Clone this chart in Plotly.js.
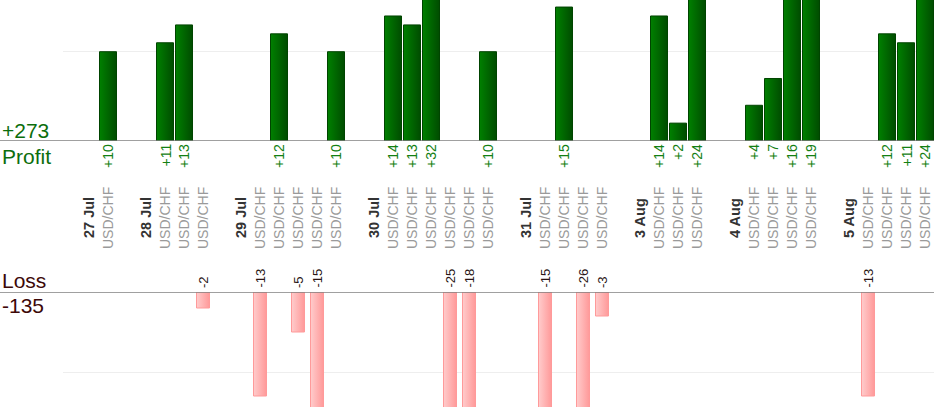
<!DOCTYPE html>
<html>
<head>
<meta charset="utf-8">
<script src="https://cdn.plot.ly/plotly-3.0.1.min.js"></script>
<style>
  html, body { margin: 0; padding: 0; background: #fff; }
  #chart { width: 934px; height: 420px; }
</style>
</head>
<body>
<div id="chart"></div>
<script>
// ---- data ----
const days = ['27 Jul', '28 Jul', '29 Jul', '30 Jul', '31 Jul', '3 Aug', '4 Aug', '5 Aug'];
const tradeDay = [0, 1, 1, 1, 2, 2, 2, 2, 2, 3, 3, 3, 3, 3, 3, 4, 4, 4, 4, 5, 5, 5, 6, 6, 6, 6, 7, 7, 7, 7];
const tradeSymbol = ['USD/CHF', 'USD/CHF', 'USD/CHF', 'USD/CHF', 'USD/CHF', 'USD/CHF', 'USD/CHF', 'USD/CHF',
  'USD/CHF', 'USD/CHF', 'USD/CHF', 'USD/CHF', 'USD/CHF', 'USD/CHF', 'USD/CHF', 'USD/CHF', 'USD/CHF',
  'USD/CHF', 'USD/CHF', 'USD/CHF', 'USD/CHF', 'USD/CHF', 'USD/CHF', 'USD/CHF', 'USD/CHF', 'USD/CHF',
  'USD/CHF', 'USD/CHF', 'USD/CHF', 'USD/CHF'];
const tradePnl = [10, 11, 13, -2, -13, 12, -5, -15, 10, 14, 13, 32, -25, -18, 10, -15, 15, -26, -3,
  14, 2, 24, 4, 7, 16, 19, -13, 12, 11, 24];
const profitTitle = 'Profit';
const lossTitle = 'Loss';

// ---- slot layout: date label slot, its trades, then an empty gap slot ----
const daySlot = [];
const tradeSlot = [];
let s = 0;
days.forEach((d, di) => {
  daySlot.push(s); s++;
  tradeDay.forEach((td, ti) => { if (td === di) { tradeSlot[ti] = s; s++; } });
  s++; // gap
});

const px = [], py = [], lx = [], ly = [];
tradePnl.forEach((v, i) => {
  if (v > 0) { px.push(tradeSlot[i]); py.push(v); }
  else if (v < 0) { lx.push(tradeSlot[i]); ly.push(v); }
});
const totalProfit = py.reduce((a, b) => a + b, 0);
const totalLoss = ly.reduce((a, b) => a + b, 0);

// ---- geometry ----
const ML = 63, PW = 934 - ML, PH = 407;
const FONT = 'Liberation Sans, Arial, Helvetica, sans-serif';
const leftX = -ML / PW;
const pY = v => 1 - v / PH; // pixel from top -> paper

const traces = [
  {
    type: 'bar', x: px, y: py, xaxis: 'x', yaxis: 'y', width: 17 / 19,
    marker: { color: '#006600', line: { color: '#004400', width: 1 } },
    hoverinfo: 'skip'
  },
  {
    type: 'bar', x: lx, y: ly, xaxis: 'x', yaxis: 'y2', width: 13 / 19,
    marker: { color: '#ffb3b3', line: { color: '#ff9a9a', width: 1 } },
    hoverinfo: 'skip'
  }
];

const annotations = [];
// trade symbol labels
tradeSlot.forEach((sl, i) => {
  annotations.push({
    x: sl, xref: 'x', y: pY(218), yref: 'paper', text: tradeSymbol[i], textangle: -90,
    showarrow: false, xanchor: 'center', yanchor: 'middle',
    font: { family: FONT, size: 14, color: '#9a9a9a' }
  });
});
// day labels
daySlot.forEach((sl, i) => {
  annotations.push({
    x: sl, xref: 'x', y: pY(218), yref: 'paper', text: '<b>' + days[i] + '</b>', textangle: -90,
    showarrow: false, xanchor: 'center', yanchor: 'middle',
    font: { family: FONT, size: 14.5, color: '#333333' }
  });
});
// profit value labels
px.forEach((x, i) => {
  annotations.push({
    x: x, xref: 'x', y: 0, yref: 'y', text: '+' + py[i], textangle: -90,
    showarrow: false, xanchor: 'center', yanchor: 'top', yshift: -1,
    font: { family: FONT, size: 14, color: '#138013' }
  });
});
// loss value labels
lx.forEach((x, i) => {
  annotations.push({
    x: x, xref: 'x', y: 0, yref: 'y2', text: String(ly[i]), textangle: -90,
    showarrow: false, xanchor: 'center', yanchor: 'bottom', yshift: 2,
    font: { family: FONT, size: 13, color: '#2a1515' }
  });
});
// totals
annotations.push(
  { x: leftX, xref: 'paper', y: pY(130), yref: 'paper', text: '+' + totalProfit, showarrow: false,
    xanchor: 'left', yanchor: 'middle', xshift: 0, font: { family: FONT, size: 21, color: '#0c6e0c' } },
  { x: leftX, xref: 'paper', y: pY(156), yref: 'paper', text: profitTitle, showarrow: false,
    xanchor: 'left', yanchor: 'middle', xshift: 0, font: { family: FONT, size: 21, color: '#0c6e0c' } },
  { x: leftX, xref: 'paper', y: pY(280), yref: 'paper', text: lossTitle, showarrow: false,
    xanchor: 'left', yanchor: 'middle', xshift: 0, font: { family: FONT, size: 21, color: '#3d0808' } },
  { x: leftX, xref: 'paper', y: pY(305), yref: 'paper', text: String(totalLoss), showarrow: false,
    xanchor: 'left', yanchor: 'middle', xshift: 0, font: { family: FONT, size: 21, color: '#3d0808' } }
);

const layout = {
  width: 934, height: 420,
  margin: { l: ML, r: 0, t: 0, b: 13, pad: 0 },
  paper_bgcolor: '#ffffff', plot_bgcolor: '#ffffff',
  showlegend: false,
  bargap: 0,
  font: { family: FONT },
  xaxis: {
    range: [-(89 - ML) / 19, (934 - 89) / 19], showgrid: false, zeroline: false,
    showticklabels: false, ticks: '', showline: false, anchor: 'y2', fixedrange: true
  },
  yaxis: {
    domain: [1 - 141 / PH, 1], range: [0, 141 / 8.93], dtick: 10, showgrid: true,
    gridcolor: '#eeeeee', gridwidth: 1, zeroline: false, showticklabels: false, ticks: '', fixedrange: true
  },
  yaxis2: {
    domain: [0, 115 / PH], range: [-115 / 8, 0], dtick: 10, showgrid: true,
    gridcolor: '#eeeeee', gridwidth: 1, zeroline: false, showticklabels: false, ticks: '', fixedrange: true
  },
  shapes: [
    { type: 'line', xref: 'paper', yref: 'y', x0: leftX, x1: 1, y0: 0, y1: 0,
      line: { color: '#808080', width: 1.3 }, layer: 'above' },
    { type: 'line', xref: 'paper', yref: 'y2', x0: leftX, x1: 1, y0: 0, y1: 0,
      line: { color: '#808080', width: 1.3 }, layer: 'above' }
  ],
  annotations: annotations
};

Plotly.newPlot('chart', traces, layout, { displayModeBar: false, staticPlot: true }).then(gd => {
  // horizontal gradients on bars
  const svgNS = 'http://www.w3.org/2000/svg';
  const defs = gd.querySelector('svg.main-svg defs');
  function grad(id, c1, c2) {
    const g = document.createElementNS(svgNS, 'linearGradient');
    g.setAttribute('id', id);
    g.setAttribute('x1', '0'); g.setAttribute('x2', '1'); g.setAttribute('y1', '0'); g.setAttribute('y2', '0');
    [[0, c1], [1, c2]].forEach(([o, c]) => {
      const st = document.createElementNS(svgNS, 'stop');
      st.setAttribute('offset', o); st.setAttribute('stop-color', c);
      g.appendChild(st);
    });
    defs.appendChild(g);
  }
  grad('gradProfit', '#008000', '#004c00');
  grad('gradLoss', '#ffcccc', '#ff9999');
  const tr = gd.querySelectorAll('.barlayer .trace');
  if (tr[0]) tr[0].querySelectorAll('path').forEach(p => { p.style.fill = 'url(#gradProfit)'; });
  if (tr[1]) tr[1].querySelectorAll('path').forEach(p => { p.style.fill = 'url(#gradLoss)'; });
});
</script>
</body>
</html>
